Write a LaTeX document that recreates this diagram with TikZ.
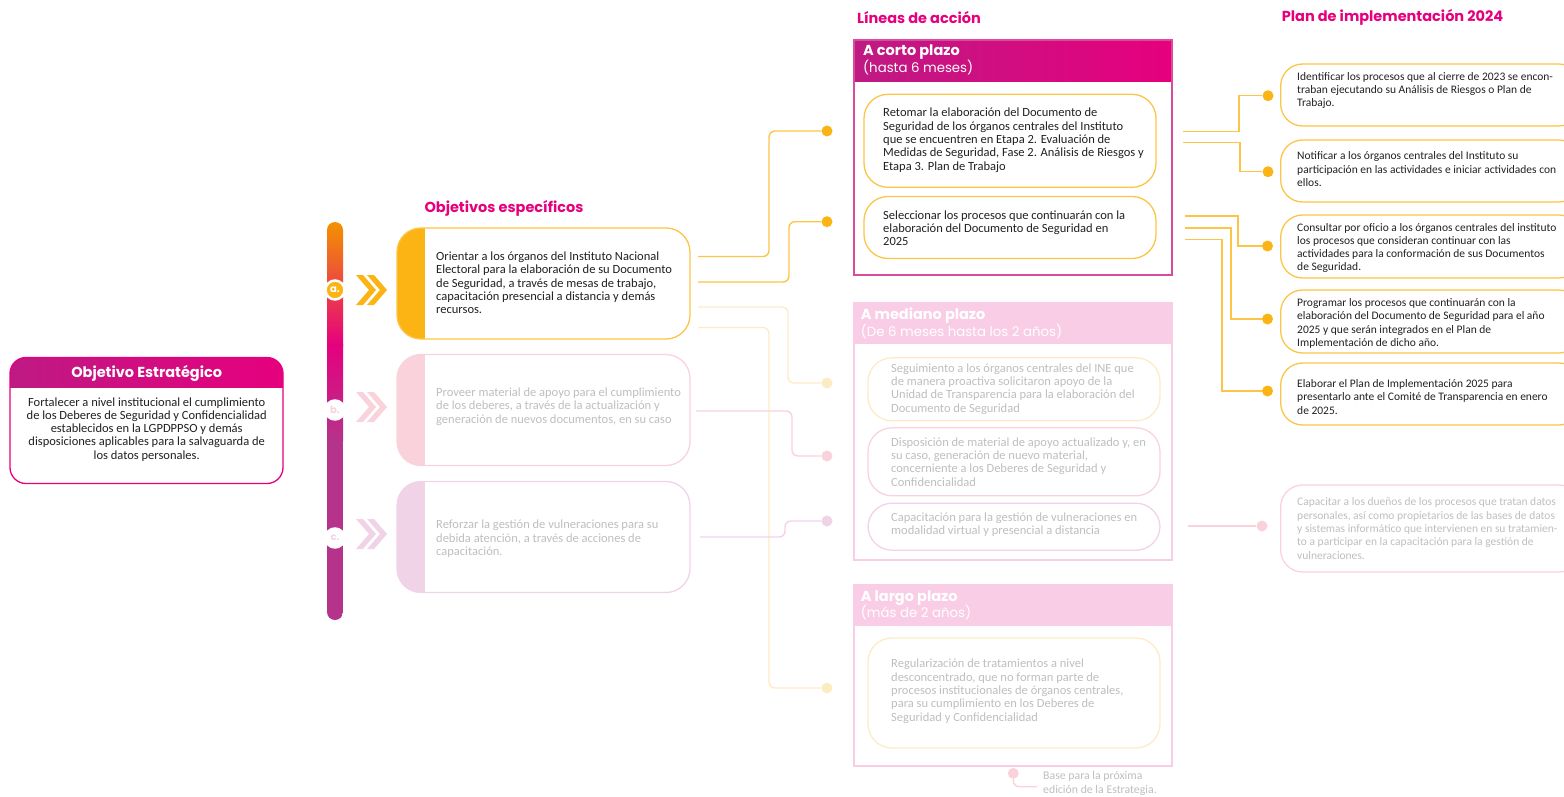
\documentclass[tikz,border=0pt]{standalone}
\usepackage{fontspec}
\setmainfont{Carlito}
\newfontfamily\headfont{Poppins}
\usetikzlibrary{positioning}

\definecolor{inemag}{HTML}{E6007E}
\definecolor{inepurple}{HTML}{BE1A83}
\definecolor{ineviolet}{HTML}{B5338A}
\definecolor{ineorange}{HTML}{F39200}
\definecolor{inegold}{HTML}{FBB413}
\definecolor{goldline}{HTML}{FCC547}
\definecolor{palegold}{HTML}{FDEBC6}
\definecolor{palepink}{HTML}{FAD2DB}
\definecolor{palelila}{HTML}{F1D3E8}
\definecolor{paleheader}{HTML}{F9CDE5}
\definecolor{panelline}{HTML}{DC4A9C}
\definecolor{inktext}{HTML}{231F20}
\definecolor{fadetext}{HTML}{BEBEBE}

\tikzset{
  bodytext/.style={font=\fontsize{12.5}{13.3}\selectfont, text=inktext, align=left, inner sep=0pt},
  fadetxt/.style={bodytext, text=fadetext},
  plantext/.style={bodytext, font=\fontsize{11.5}{13.3}\selectfont},
  headtitle/.style={font=\headfont\bfseries\fontsize{14.5}{16}\selectfont, text=inemag, inner sep=0pt},
  panelhead/.style={font=\headfont\fontsize{13.3}{16.6}\selectfont, text=white, align=left, inner sep=0pt, anchor=west},
  barlabel/.style={circle, draw=white, line width=2.5pt, minimum size=19pt, inner sep=0pt, font=\headfont\bfseries\fontsize{10}{12}\selectfont},
  enddot/.style={circle, inner sep=0pt, minimum size=11pt},
  pill/.style={draw, line width=1.3pt, rounded corners=24pt, inner sep=0pt, minimum width=292pt},
  planbox/.style={draw, line width=1.3pt, rounded corners=22pt, inner sep=0pt, minimum width=300pt, anchor=west},
  panel/.style={draw, line width=1.5pt, inner sep=0pt, minimum width=318pt, anchor=north west},
  objbox/.style={draw, line width=1.3pt, rounded corners=24pt, inner sep=0pt, minimum width=293pt, minimum height=111pt},
  conn/.style={line width=1.4pt, rounded corners=6pt},
  rconn/.style={line width=1.4pt},
}

\begin{document}
\begin{tikzpicture}[x=1pt, y=-1pt]
\useasboundingbox (0,0) rectangle (1564,796);
\clip (0,0) rectangle (1564,796);

% titles
\node[headtitle] (tobj) at (504,208.3) {Objetivos específicos};
\node[headtitle] (tlin) at (919,17.3) {Líneas de acción};
\node[headtitle] (tplan) at (1392.5,17.3) {Plan de implementación 2024};

% objetivo estrategico
\node[draw=inemag, line width=1.3pt, rounded corners=16pt, inner sep=0pt,
  minimum width=273pt, minimum height=126pt,
  path picture={\shade[sharp corners, left color=inepurple, right color=inemag]
    (path picture bounding box.north west) rectangle ([yshift=-30pt]path picture bounding box.north east);}]
  (oe) at (146.5,420.5) {};
\node[headtitle, text=white] (oetitle) at (146.7,373.3) {Objetivo Estratégico};
\node[bodytext, align=center] (oetext) at (146.7,429.3) {Fortalecer a nivel institucional el cumplimiento\\
  de los Deberes de Seguridad y Confidencialidad\\ establecidos en la LGPDPPSO y demás\\
  disposiciones aplicables para la salvaguarda de\\ los datos personales.};

% barra vertical
\begin{scope}
\clip[rounded corners=8pt] (327,222) rectangle (343,620);
\shade[top color=ineorange, bottom color=inemag] (327,222) rectangle (343,345);
\shade[top color=inemag, bottom color=ineviolet] (327,344) rectangle (343,440);
\fill[ineviolet] (327,439) rectangle (343,620);
\end{scope}
\node[barlabel, fill=inegold, text=white] (lbla) at (335,290) {a.};
\node[barlabel, fill=white, text=palepink] (lblb) at (335,410) {b.};
\node[barlabel, fill=white, text=palelila] (lblc) at (335,538) {c.};

% chevrones
\fill[inegold] (356,275) -- (363,275) -- (376,290) -- (363,305) -- (356,305) -- (369,290) -- cycle;
\fill[inegold] (367,275) -- (374,275) -- (387,290) -- (374,305) -- (367,305) -- (380,290) -- cycle;
\fill[palepink] (356,392) -- (363,392) -- (376,407) -- (363,422) -- (356,422) -- (369,407) -- cycle;
\fill[palepink] (367,392) -- (374,392) -- (387,407) -- (374,422) -- (367,422) -- (380,407) -- cycle;
\fill[palelila] (356,519) -- (363,519) -- (376,534) -- (363,549) -- (356,549) -- (369,534) -- cycle;
\fill[palelila] (367,519) -- (374,519) -- (387,534) -- (374,549) -- (367,549) -- (380,534) -- cycle;

% objetivos especificos
\node[objbox, draw=goldline, path picture={\fill[sharp corners, inegold] (path picture bounding box.south west)
  rectangle ([xshift=28pt]path picture bounding box.north west);}] (oa) at (543.5,283.5) {};
\node[bodytext, anchor=west] (oatext) at (436,282.8) {Orientar a los órganos del Instituto Nacional\\
  Electoral para la elaboración de su Documento\\ de Seguridad, a través de mesas de trabajo,\\
  capacitación presencial a distancia y demás\\ recursos.};
\node[objbox, draw=palepink, path picture={\fill[sharp corners, palepink] (path picture bounding box.south west)
  rectangle ([xshift=28pt]path picture bounding box.north west);}] (ob) at (543.5,410) {};
\node[fadetxt, anchor=west] (obtext) at (436,406.7) {Proveer material de apoyo para el cumplimiento\\
  de los deberes, a través de la actualización y\\ generación de nuevos documentos, en su caso};
\node[objbox, draw=palelila, path picture={\fill[sharp corners, palelila] (path picture bounding box.south west)
  rectangle ([xshift=28pt]path picture bounding box.north west);}] (oc) at (543.5,537) {};
\node[fadetxt, anchor=west] (octext) at (436,538.7) {Reforzar la gestión de vulneraciones para su\\
  debida atención, a través de acciones de\\ capacitación.};

% a corto plazo
\node[panel, draw=panelline, minimum height=235pt,
  path picture={\shade[left color=inepurple, right color=inemag] (path picture bounding box.north west)
    rectangle ([yshift=-42pt]path picture bounding box.north east);}] (corto) at (853,39) {};
\node[panelhead] (cortohead) at (863,60) {{\fontsize{14.5}{16.6}\selectfont\bfseries A corto plazo}\\ (hasta 6 meses)};
\node[pill, draw=goldline, minimum height=93pt] (r1) at (1010,140.8) {};
\node[bodytext, anchor=west] (r1text) at (883,140.3) {Retomar la elaboración del Documento de\\
  Seguridad de los órganos centrales del Instituto\\ que se encuentren en Etapa 2. Evaluación de\\
  Medidas de Seguridad, Fase 2. Análisis de Riesgos y\\ Etapa 3. Plan de Trabajo};
\node[pill, draw=goldline, minimum height=62pt] (r2) at (1010,227.5) {};
\node[bodytext, anchor=west] (r2text) at (883,228) {Seleccionar los procesos que continuarán con la\\
  elaboración del Documento de Seguridad en\\ 2025};

% a mediano plazo
\node[panel, draw=paleheader, minimum height=257pt,
  path picture={\fill[paleheader] (path picture bounding box.north west)
    rectangle ([yshift=-41pt]path picture bounding box.north east);}] (mediano) at (853,302) {};
\node[panelhead] (medianohead) at (860.7,323.3) {{\fontsize{14.5}{16.6}\selectfont\bfseries A mediano plazo}\\ (De 6 meses hasta los 2 años)};
\node[pill, draw=palegold, minimum height=63pt] (m1) at (1014,389.3) {};
\node[fadetxt, anchor=west] (m1text) at (891,389) {Seguimiento a los órganos centrales del INE que\\
  de manera proactiva solicitaron apoyo de la\\ Unidad de Transparencia para la elaboración del\\
  Documento de Seguridad};
\node[pill, draw=palepink, minimum height=68pt] (m2) at (1014,461.8) {};
\node[fadetxt, anchor=west] (m2text) at (891,462) {Disposición de material de apoyo actualizado y, en\\
  su caso, generación de nuevo material,\\ concerniente a los Deberes de Seguridad y\\ Confidencialidad};
\node[pill, draw=palelila, minimum height=47pt] (m3) at (1014,526.7) {};
\node[fadetxt, anchor=west] (m3text) at (891,524.5) {Capacitación para la gestión de vulneraciones en\\
  modalidad virtual y presencial a distancia};

% a largo plazo
\node[panel, draw=paleheader, minimum height=181pt,
  path picture={\fill[paleheader] (path picture bounding box.north west)
    rectangle ([yshift=-41pt]path picture bounding box.north east);}] (largo) at (853,584) {};
\node[panelhead] (largohead) at (860.7,605.3) {{\fontsize{14.5}{16.6}\selectfont\bfseries A largo plazo}\\ (más de 2 años)};
\node[pill, draw=palegold, minimum height=110pt] (l1) at (1014,693) {};
\node[fadetxt, anchor=west] (l1text) at (891,691.3) {Regularización de tratamientos a nivel\\
  desconcentrado, que no forman parte de\\ procesos institucionales de órganos centrales,\\
  para su cumplimiento en los Deberes de\\ Seguridad y Confidencialidad};

% puntos de las lineas de accion
\node[enddot, fill=inegold] (d1) at (827,131) {};
\node[enddot, fill=inegold] (d2) at (827,221.7) {};
\node[enddot, fill=palegold] (dm1) at (827,383) {};
\node[enddot, fill=palepink] (dm2) at (827,456) {};
\node[enddot, fill=palelila] (dm3) at (827,521) {};
\node[enddot, fill=palegold] (dl1) at (827,688) {};

\coordinate (oa1) at (698,256.5);
\coordinate (oa2) at (698,282);
\coordinate (oa3) at (698,307);
\coordinate (oa4) at (698,327.5);
\coordinate (ob1) at (696,411);
\coordinate (oc1) at (700,537);

\draw[conn, goldline] (oa1) -- ++(71,0) |- (d1);
\draw[conn, goldline] (oa2) -- ++(91,0) |- (d2);
\draw[conn, palegold] (oa3) -- ++(90,0) |- (dm1);
\draw[conn, palegold] (oa4) -- ++(71,0) |- (dl1);
\draw[conn, palepink] (ob1) -- ++(96,0) |- (dm2);
\draw[conn, palelila] (oc1) -- ++(85,0) |- (dm3);

% plan de implementacion
\node[planbox, draw=goldline, minimum height=62pt] (p1) at (1280,95) {};
\node[plantext, anchor=west] (p1text) at (1297,90.3) {Identificar los procesos que al cierre de 2023 se encon-\\
  traban ejecutando su Análisis de Riesgos o Plan de\\ Trabajo.};
\node[planbox, draw=goldline, minimum height=62pt] (p2) at (1280,171) {};
\node[plantext, anchor=west] (p2text) at (1297,169.3) {Notificar a los órganos centrales del Instituto su\\
  participación en las actividades e iniciar actividades con\\ ellos.};
\node[planbox, draw=goldline, minimum height=63pt] (p3) at (1280,246.5) {};
\node[plantext, anchor=west] (p3text) at (1297,248) {Consultar por oficio a los órganos centrales del instituto\\
  los procesos que consideran continuar con las\\ actividades para la conformación de sus Documentos\\ de Seguridad.};
\node[planbox, draw=goldline, minimum height=63pt] (p4) at (1280,321.5) {};
\node[plantext, anchor=west] (p4text) at (1297,323.3) {Programar los procesos que continuarán con la\\
  elaboración del Documento de Seguridad para el año\\ 2025 y que serán integrados en el Plan de\\
  Implementación de dicho año.};
\node[planbox, draw=goldline, minimum height=62pt] (p5) at (1280,394) {};
\node[plantext, anchor=west] (p5text) at (1297,397) {Elaborar el Plan de Implementación 2025 para\\
  presentarlo ante el Comité de Transparencia en enero\\ de 2025.};
\node[planbox, draw=palepink, minimum height=87pt] (p6) at (1280,528.5) {};
\node[plantext, text=fadetext, anchor=west] (p6text) at (1297,528.5) {Capacitar a los dueños de los procesos que tratan datos\\
  personales, así como propietarios de las bases de datos\\ y sistemas informático que intervienen en su tratamien-\\
  to a participar en la capacitación para la gestión de\\ vulneraciones.};

\node[enddot, fill=inegold] (p1d) at (1268,95.7) {};
\node[enddot, fill=inegold] (p2d) at (1268,171.7) {};
\node[enddot, fill=inegold] (p3d) at (1267.5,246) {};
\node[enddot, fill=inegold] (p4d) at (1267.5,319) {};
\node[enddot, fill=inegold] (p5d) at (1267.5,391) {};
\node[enddot, fill=palepink] (p6d) at (1262,526) {};

\coordinate (r1a) at (1183,131.7);
\coordinate (r1b) at (1183,142.3);
\coordinate (r2a) at (1185,216);
\coordinate (r2b) at (1185,228);
\coordinate (r2c) at (1185,239.3);
\coordinate (m3r) at (1188,526);

\draw[rconn, goldline] (r1a) -- ++(56,0) |- (p1d);
\draw[rconn, goldline] (r1b) -- ++(57,0) |- (p2d);
\draw[rconn, goldline] (r2a) -- ++(53,0) |- (p3d);
\draw[rconn, goldline] (r2b) -- ++(46,0) |- (p4d);
\draw[rconn, goldline] (r2c) -- ++(37,0) |- (p5d);
\draw[rconn, palepink] (m3r) -- (p6d);

% leyenda
\node[enddot, fill=palepink] (ld) at (1013.3,773.3) {};
\coordinate (le) at (1037,786.7);
\draw[conn, palepink] (ld) |- (le);
\node[plantext, font=\fontsize{11.8}{13.3}\selectfont, text=fadetext, anchor=west] (legtext) at (1043,783.3) {Base para la próxima\\ edición de la Estrategia.};
\end{tikzpicture}
\end{document}
